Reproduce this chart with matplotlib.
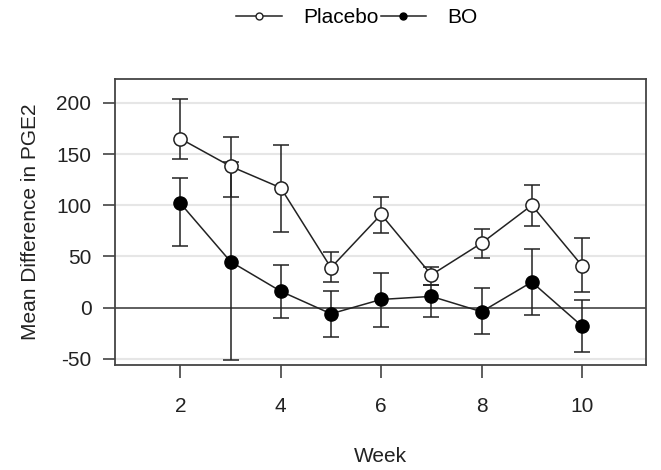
import numpy as np
import matplotlib
matplotlib.use('Agg')
import matplotlib.pyplot as plt

plt.rcParams['font.family'] = ['Liberation Sans', 'DejaVu Sans']
plt.rcParams['axes.unicode_minus'] = False

weeks = [2, 3, 4, 5, 6, 7, 8, 9, 10]

placebo = [165, 138, 117, 39, 91, 32, 63, 100, 41]
placebo_hi = [204, 167, 159, 54, 108, 40, 77, 120, 68]
placebo_lo = [145, 108, 74, 25, 73, 22, 48, 80, 15]

bo = [102, 45, 16, -6, 8, 11, -4, 25, -18]
bo_hi = [127, 142, 42, 16, 34, 22, 19, 57, 7]
bo_lo = [60, -51, -10, -29, -19, -9, -26, -7, -43]

yticks = [-50, 0, 50, 100, 150, 200]
xticks = [2, 4, 6, 8, 10]

fig = plt.figure(figsize=(6.61, 4.70), dpi=100)
ax = fig.add_axes([0.174, 0.2234, 0.803, 0.608])

for y in yticks:
    if y == 0:
        continue
    ax.axhline(y, color='#e6e6e6', lw=1.5, zorder=0)
ax.axhline(0, color='#333333', lw=1.1, zorder=1)

p_err = [np.array(placebo) - np.array(placebo_lo), np.array(placebo_hi) - np.array(placebo)]
b_err = [np.array(bo) - np.array(bo_lo), np.array(bo_hi) - np.array(bo)]

ax.errorbar(weeks, placebo, yerr=p_err, color='#222222', lw=1.1, elinewidth=1.1,
            capsize=5.5, capthick=1.1, marker='o', ms=9.5, mfc='white', mec='#222222',
            mew=1.1, zorder=3)
ax.errorbar(weeks, bo, yerr=b_err, color='#222222', lw=1.1, elinewidth=1.1,
            capsize=5.5, capthick=1.1, marker='o', ms=9.5, mfc='black', mec='black',
            zorder=3)

ax.set_xlim(0.7, 11.27)
ax.set_ylim(-56, 223)
ax.set_xticks(xticks)
ax.set_yticks(yticks)
ax.tick_params(direction='out', length=9, width=1.1, color='#333333', labelsize=15,
               labelcolor='#222222')
ax.tick_params(axis='x', pad=14)
ax.tick_params(axis='y', pad=8)
for s in ax.spines.values():
    s.set_color('#444444')
    s.set_linewidth(1.3)

ax.set_xlabel('Week', fontsize=15, color='#222222', labelpad=22)
ax.set_ylabel('Mean Difference in PGE2', fontsize=15, color='#222222', labelpad=12)

h1, = ax.plot([], [], color='#222222', lw=1.1, marker='o', ms=5, mfc='white', mec='#222222')
h2, = ax.plot([], [], color='#222222', lw=1.1, marker='o', ms=5, mfc='black', mec='black')
fig.legend([h1, h2], ['Placebo', 'BO'], loc='center', bbox_to_anchor=(0.54, 0.962),
           ncol=2, frameon=False, fontsize=15, handlelength=2.2, columnspacing=0.1,
           handletextpad=1.0)

fig.savefig('out.png', dpi=100)
